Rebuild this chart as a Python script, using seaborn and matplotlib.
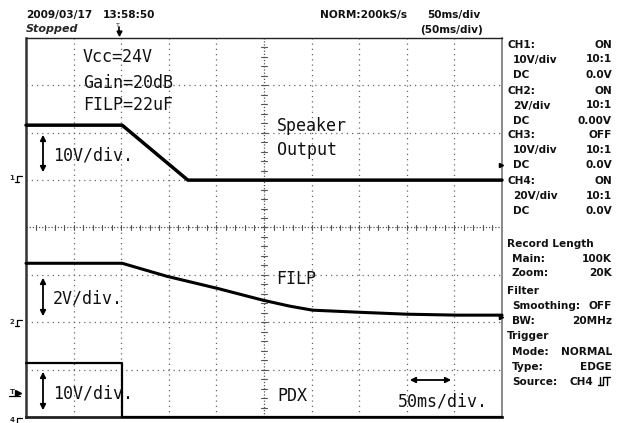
import numpy as np
import pandas as pd
import matplotlib
matplotlib.use("Agg")
import matplotlib.pyplot as plt
import seaborn as sns

# ---- data (time in ms, voltage in V) ----
time_speaker = [0, 101, 170, 500]
speaker_v = [11.6, 11.6, 0.0, 0.0]

time_filp = [0, 101, 148, 201, 249, 277, 301, 351, 400, 453, 500]
filp_v = [2.49, 2.49, 1.94, 1.43, 0.93, 0.68, 0.51, 0.42, 0.34, 0.30, 0.30]

time_pdx = [0, 101, 101, 500]
pdx_v = [22.8, 22.8, 0.0, 0.0]

# channel settings: volts/div, ground level (div from bottom)
ch_scale = {"Speaker": 10.0, "FILP": 2.0, "PDX": 20.0}
ch_ground = {"Speaker": 5.0, "FILP": 2.0, "PDX": 0.0}

panel_left = ["CH1:", " 10V/div", " DC", "CH2:", " 2V/div", " DC", "CH3:", " 10V/div", " DC",
              "CH4:", " 20V/div", " DC"]
panel_right = ["ON", "10:1", "0.0V", "ON", "10:1", "0.00V", "OFF", "10:1", "0.0V",
               "ON", "10:1", "0.0V"]
panel2_left = ["Record Length", " Main:", " Zoom:", "Filter", " Smoothing:", " BW:",
               "Trigger", " Mode:", " Type:", " Source:"]
panel2_right = ["", "100K", "20K", "", "OFF", "20MHz", "", "NORMAL", "EDGE", "CH4"]

frames = []
for name, t, v in [("Speaker", time_speaker, speaker_v), ("FILP", time_filp, filp_v),
                   ("PDX", time_pdx, pdx_v)]:
    d = pd.DataFrame({"t": t, "v": v})
    d["div"] = d["v"] / ch_scale[name] + ch_ground[name]
    d["ch"] = name
    frames.append(d)
df = pd.concat(frames, ignore_index=True)

sns.set_theme(style="white")
plt.rcParams["font.family"] = ["DejaVu Sans"]

W, H = 626, 423
fig = plt.figure(figsize=(W / 100, H / 100), dpi=100)
x0, x1, y0, y1 = 26, 502, 38, 417
ax = fig.add_axes([x0 / W, 1 - y1 / H, (x1 - x0) / W, (y1 - y0) / H])
ax.set_xlim(0, 500)
ax.set_ylim(0, 8)

# grid
for gx in range(50, 500, 50):
    if gx != 250:
        ax.axvline(gx, color="#666666", lw=0.9, ls=(0, (1, 3.2)), zorder=1)
for gy in range(1, 8):
    if gy != 4:
        ax.axhline(gy, color="#666666", lw=0.9, ls=(0, (1, 3.2)), zorder=1)
ax.axvline(250, color="#555555", lw=0.9, ls=(0, (1, 1.5)), zorder=1)
ax.axhline(4, color="#555555", lw=0.9, ls=(0, (1, 1.5)), zorder=1)
for tx in np.arange(0, 501, 10):
    ax.plot([tx, tx], [3.95, 4.05], color="#555555", lw=0.8, zorder=1)
for ty in np.arange(0, 8.01, 0.2):
    ax.plot([247, 253], [ty, ty], color="#555555", lw=0.8, zorder=1)

lw = {"Speaker": 2.5, "FILP": 2.2, "PDX": 1.6}
for name in ["Speaker", "FILP", "PDX"]:
    sub = df[df["ch"] == name]
    sns.lineplot(data=sub, x="t", y="div", ax=ax, color="black", lw=lw[name],
                 sort=False, estimator=None, legend=False, zorder=3, clip_on=False)

ax.set_xticks([])
ax.set_yticks([])
ax.set_xlabel("")
ax.set_ylabel("")
for s, w, c in [("left", 1.8, "#333333"), ("bottom", 2.0, "#222222"),
                ("top", 1.0, "#222222"), ("right", 1.2, "#777777")]:
    ax.spines[s].set_visible(True)
    ax.spines[s].set_linewidth(w)
    ax.spines[s].set_color(c)


def fx(x):
    return x / W


def fy(y):
    return 1 - y / H


mono = "DejaVu Sans Mono"
big = 12
for txt, x, yb in [("Vcc=24V", 83, 62), ("Gain=20dB", 83, 88), ("FILP=22uF", 83, 110),
                   ("Speaker", 277, 131), ("Output", 277, 155), ("10V/div.", 53, 161),
                   ("2V/div.", 53, 303), ("10V/div.", 53, 398), ("FILP", 276, 284),
                   ("PDX", 277, 401), ("50ms/div.", 398, 406)]:
    fig.text(fx(x), fy(yb), txt, family=mono, fontsize=big, va="baseline", ha="left",
             color="#111111", zorder=5)

# arrows
for xa, ya, yb2 in [(43, 132, 175), (43, 275, 319), (43, 369, 413)]:
    fig.add_artist(matplotlib.patches.FancyArrowPatch(
        (fx(xa), fy(ya)), (fx(xa), fy(yb2)), transform=fig.transFigure,
        arrowstyle="<|-|>", mutation_scale=8, lw=1.3, color="black"))
fig.add_artist(matplotlib.patches.FancyArrowPatch(
    (fx(407), fy(380)), (fx(454), fy(380)), transform=fig.transFigure,
    arrowstyle="<|-|>", mutation_scale=8, lw=1.3, color="black"))

# header
hfont = dict(family="DejaVu Sans", fontsize=7.6, weight="bold", va="baseline",
             color="#111111")
fig.text(fx(26), fy(18), "2009/03/17", ha="left", **hfont)
fig.text(fx(103), fy(18), "13:58:50", ha="left", **hfont)
fig.text(fx(26), fy(32), "Stopped", ha="left", style="italic", family="DejaVu Sans",
         fontsize=8, weight="bold", va="baseline")
fig.text(fx(320), fy(18), "NORM:200kS/s", ha="left", **hfont)
fig.text(fx(427), fy(18), "50ms/div", ha="left", **hfont)
fig.text(fx(420), fy(33), "(50ms/div)", ha="left", **hfont)
fig.text(fx(118), fy(27), "T", ha="center", family="DejaVu Sans", fontsize=4.5,
         va="baseline")
fig.add_artist(matplotlib.lines.Line2D([fx(119), fx(119)], [fy(27), fy(33)],
                                       color="black", lw=1.2))
fig.add_artist(matplotlib.lines.Line2D([fx(119)], [fy(33)], marker="v",
                                       markersize=3.5, color="black"))

# right panel
pfont = dict(family="DejaVu Sans", fontsize=7.6, weight="bold", va="baseline",
             color="#111111")
rows1 = [45, 59, 74, 90, 105, 120, 135, 149, 164, 180, 195, 210]
for lab, val, yc in zip(panel_left, panel_right, rows1):
    xl = 513 if lab.startswith(" ") else 507
    fig.text(fx(xl), fy(yc + 3.5), lab.strip(), ha="left", **pfont)
    fig.text(fx(612), fy(yc + 3.5), val, ha="right", **pfont)
rows2 = [243, 258, 273, 290, 305, 320, 335, 351, 366, 381]
for lab, val, yc in zip(panel2_left, panel2_right, rows2):
    xl = 512 if lab.startswith(" ") else 507
    fig.text(fx(xl), fy(yc + 3.5), lab.strip(), ha="left", **pfont)
    if lab.strip() == "Source:":
        fig.text(fx(593), fy(yc + 3.5), val, ha="right", **pfont)
    else:
        fig.text(fx(612), fy(yc + 3.5), val, ha="right", **pfont)
# trigger edge symbol
sx, sy = 598, 381
for xs, ys in [([sx, sx + 5, sx + 5, sx + 12], [sy + 4, sy + 4, sy - 4, sy - 4]),
               ([sx + 2, sx + 2], [sy - 4, sy + 4]), ([sx + 9, sx + 9], [sy - 4, sy + 4])]:
    fig.add_artist(matplotlib.lines.Line2D([fx(v) for v in xs], [fy(v) for v in ys],
                                           color="black", lw=1.0))
for yy in [165, 317]:
    fig.add_artist(matplotlib.lines.Line2D([fx(501)], [fy(yy)], marker=">",
                                           markersize=3, color="black"))

# left channel markers
gfont = dict(family="DejaVu Sans", fontsize=5, weight="bold", va="center", ha="center")
for lab, yy in [("1", 178), ("2", 322), ("4", 420)]:
    fig.text(fx(12), fy(yy), lab, **gfont)
    fig.add_artist(matplotlib.lines.Line2D([fx(22), fx(17), fx(17)],
                                           [fy(yy - 2), fy(yy - 2), fy(yy + 4)],
                                           color="black", lw=0.9))
    fig.add_artist(matplotlib.lines.Line2D([fx(15), fx(19)], [fy(yy + 4), fy(yy + 4)],
                                           color="black", lw=0.9))
fig.text(fx(12), fy(392), "T", **gfont)
fig.add_artist(matplotlib.lines.Line2D([fx(9), fx(20)], [fy(396), fy(396)],
                                       color="black", lw=0.9))
fig.add_artist(matplotlib.lines.Line2D([fx(18)], [fy(393)], marker=">",
                                       markersize=4, color="black"))

fig.savefig("out.png", dpi=100)
